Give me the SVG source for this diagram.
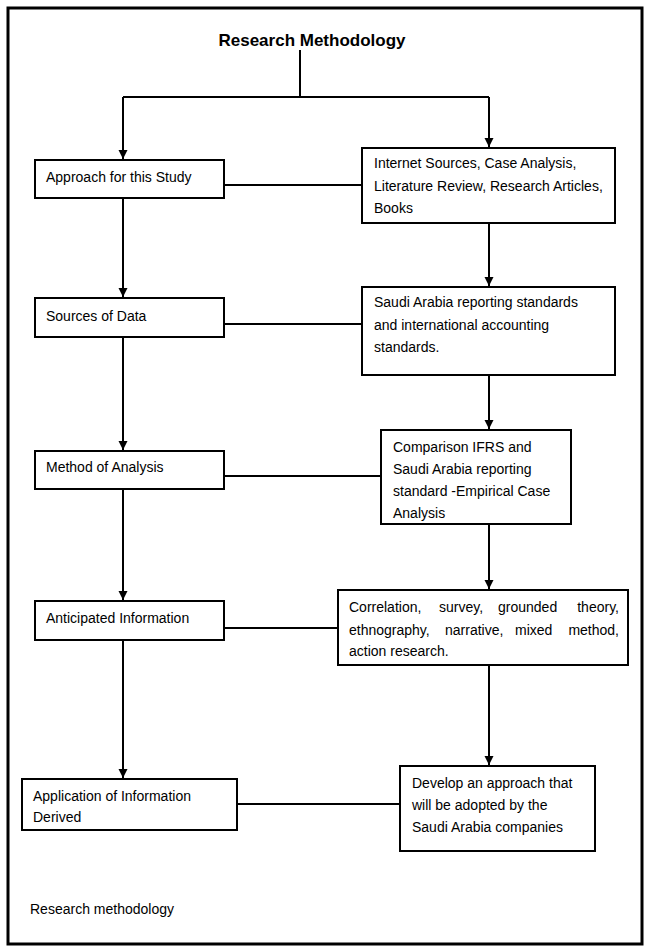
<svg xmlns="http://www.w3.org/2000/svg" width="648" height="952" viewBox="0 0 648 952">
<style>
.box{fill:#fff;stroke:#000;stroke-width:2}
.t{font-family:"Liberation Sans",Arial,sans-serif;font-size:14px;fill:#000}
.ttl{font-family:"Liberation Sans",Arial,sans-serif;font-size:17px;font-weight:bold;fill:#000}
.c line,.c path{stroke:#000;stroke-width:2;fill:none}
</style>
<defs>
<marker id="ah" markerUnits="userSpaceOnUse" markerWidth="10" markerHeight="10" refX="9" refY="4.5" orient="auto">
<path d="M0,0 L9,4.5 L0,9 z" fill="#000"/>
</marker>
</defs>
<rect x="0" y="0" width="648" height="952" fill="#fff"/>
<rect x="8" y="8" width="634" height="936" fill="none" stroke="#000" stroke-width="3"/>
<text class="ttl" x="312" y="46" text-anchor="middle">Research Methodology</text>
<g class="c" id="connectors">
<path d="M300,50 V97"/>
<path d="M123,97 H489"/>
<line x1="123" y1="97" x2="123" y2="159" marker-end="url(#ah)"/>
<line x1="489" y1="97" x2="489" y2="147" marker-end="url(#ah)"/>
<line x1="123" y1="198" x2="123" y2="297" marker-end="url(#ah)"/>
<line x1="123" y1="337" x2="123" y2="450" marker-end="url(#ah)"/>
<line x1="123" y1="489" x2="123" y2="600" marker-end="url(#ah)"/>
<line x1="123" y1="640" x2="123" y2="778" marker-end="url(#ah)"/>
<line x1="489" y1="223" x2="489" y2="286" marker-end="url(#ah)"/>
<line x1="489" y1="375" x2="489" y2="429" marker-end="url(#ah)"/>
<line x1="489" y1="524" x2="489" y2="589" marker-end="url(#ah)"/>
<line x1="489" y1="665" x2="489" y2="765" marker-end="url(#ah)"/>
<line x1="224" y1="185" x2="362" y2="185"/>
<line x1="224" y1="324" x2="362" y2="324"/>
<line x1="224" y1="476" x2="381" y2="476"/>
<line x1="224" y1="628" x2="338" y2="628"/>
<line x1="237" y1="804" x2="400" y2="804"/>
</g>
<g id="approach">
<rect class="box" x="35" y="160" width="189" height="38"/>
<text class="t" x="46" y="182">Approach for this Study</text>
</g>
<g id="sources">
<rect class="box" x="35" y="298" width="189" height="39"/>
<text class="t" x="46" y="321">Sources of Data</text>
</g>
<g id="method">
<rect class="box" x="35" y="451" width="189" height="38"/>
<text class="t" x="46" y="472">Method of Analysis</text>
</g>
<g id="anticipated">
<rect class="box" x="35" y="601" width="189" height="39"/>
<text class="t" x="46" y="623">Anticipated Information</text>
</g>
<g id="application">
<rect class="box" x="22" y="779" width="215" height="51"/>
<text class="t" x="33" y="801">Application of Information</text>
<text class="t" x="33" y="822">Derived</text>
</g>
<g id="internet">
<rect class="box" x="362" y="148" width="253" height="75"/>
<text class="t" x="374" y="168">Internet Sources, Case Analysis,</text>
<text class="t" x="374" y="191">Literature Review, Research Articles,</text>
<text class="t" x="374" y="213">Books</text>
</g>
<g id="saudi-standards">
<rect class="box" x="362" y="287" width="253" height="88"/>
<text class="t" x="374" y="307">Saudi Arabia reporting standards</text>
<text class="t" x="374" y="330">and international accounting</text>
<text class="t" x="374" y="352">standards.</text>
</g>
<g id="comparison">
<rect class="box" x="381" y="430" width="190" height="94"/>
<text class="t" x="393" y="452">Comparison IFRS and</text>
<text class="t" x="393" y="474">Saudi Arabia reporting</text>
<text class="t" x="393" y="496">standard -Empirical Case</text>
<text class="t" x="393" y="518">Analysis</text>
</g>
<g id="correlation">
<rect class="box" x="338" y="590" width="290" height="75"/>
<text class="t" y="612"><tspan x="349">Correlation,</tspan><tspan x="439">survey,</tspan><tspan x="498">grounded</tspan><tspan x="619" text-anchor="end">theory,</tspan></text>
<text class="t" y="635"><tspan x="349">ethnography,</tspan><tspan x="445">narrative,</tspan><tspan x="515">mixed</tspan><tspan x="619" text-anchor="end">method,</tspan></text>
<text class="t" x="349" y="656">action research.</text>
</g>
<g id="develop">
<rect class="box" x="400" y="766" width="195" height="85"/>
<text class="t" x="412" y="788">Develop an approach that</text>
<text class="t" x="412" y="810">will be adopted by the</text>
<text class="t" x="412" y="832">Saudi Arabia companies</text>
</g>
<text class="t" x="30" y="914">Research methodology</text>
</svg>
